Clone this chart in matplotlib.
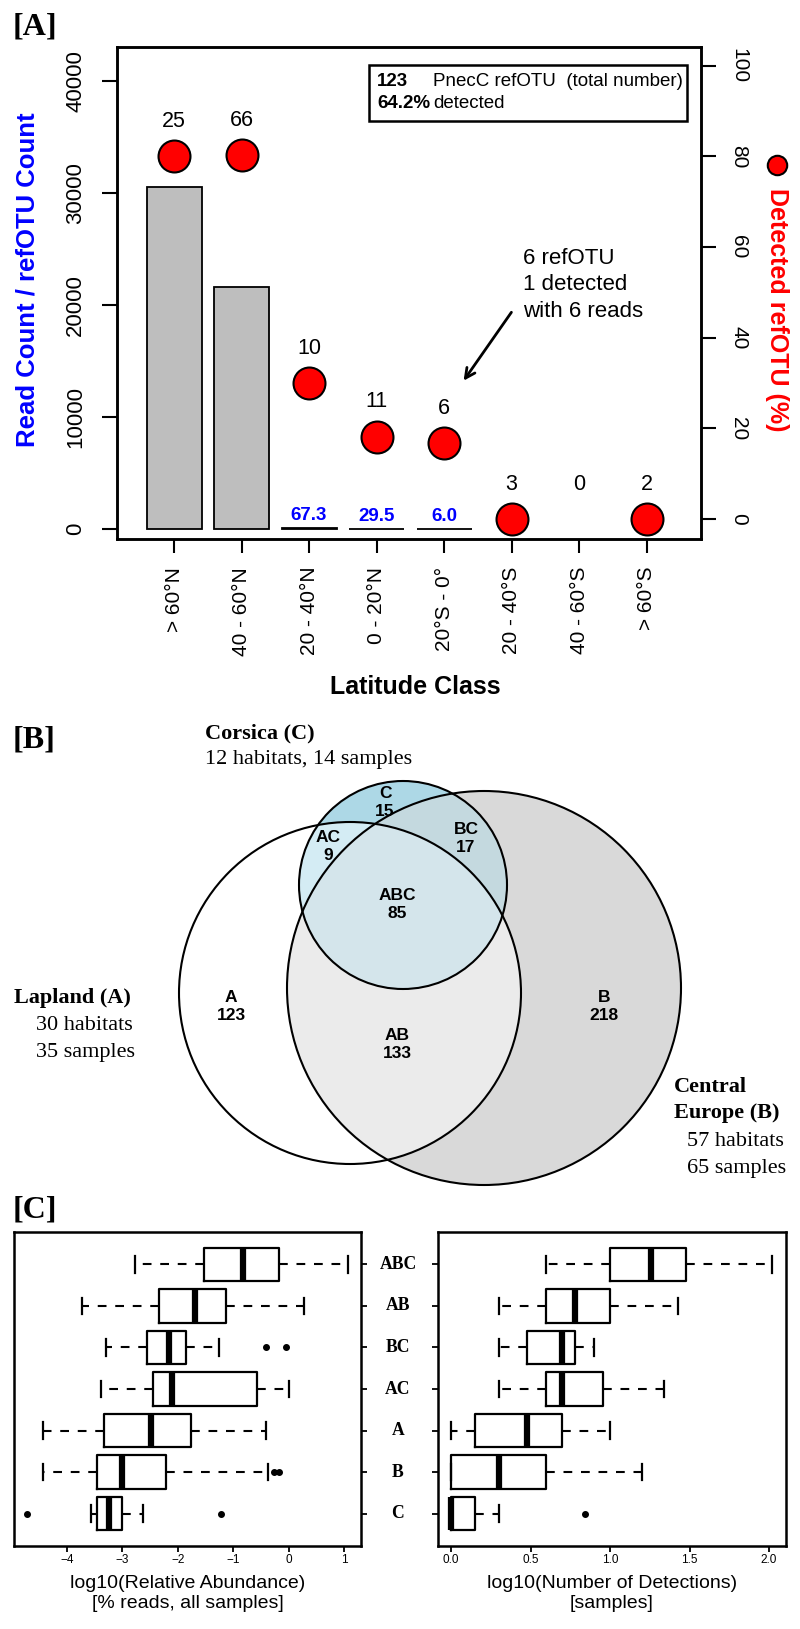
import numpy as np
import matplotlib as mpl
mpl.use('Agg')
import matplotlib.pyplot as plt
import matplotlib.transforms as transforms
from matplotlib.patches import Circle, Polygon, Rectangle
from matplotlib.lines import Line2D

W, H = 800, 1629
SANS = ['Liberation Sans', 'DejaVu Sans']
SERIF = ['Liberation Serif', 'DejaVu Serif']
plt.rcParams['font.family'] = SANS

# ---------------- data: panel A
lat_classes = ['> 60°N', '40 - 60°N', '20 - 40°N', '0 - 20°N',
               '20°S - 0°', '20 - 40°S', '40 - 60°S', '> 60°S']
reads_per_otu = [30500, 21600, 67.3, 29.5, 6.0, 0, 0, 0]
refotu_total = [25, 66, 10, 11, 6, 3, 0, 2]
refotu_detected = [20, 53, 3, 2, 1, 0, 0, 0]

# ---------------- data: panel B
venn_regions = ['A', 'B', 'C', 'AB', 'AC', 'BC', 'ABC']
venn_counts = [123, 218, 15, 133, 9, 17, 85]
venn_colors = ['#FFFFFF', '#D9D9D9', '#ADD8E6', '#EBEBEB', '#D4ECF4', '#C4D9DF', '#D4E5EB']

# ---------------- data: panel C (bottom to top)
groups = ['C', 'B', 'A', 'AC', 'BC', 'AB', 'ABC']
# whislo, q1, median, q3, whishi
abund_stats = [(-3.57, -3.45, -3.24, -3.00, -2.62),
               (-4.42, -3.46, -3.00, -2.22, -0.38),
               (-4.42, -3.33, -2.49, -1.77, -0.41),
               (-3.39, -2.45, -2.10, -0.57, 0.00),
               (-3.30, -2.55, -2.15, -1.86, -1.25),
               (-3.72, -2.33, -1.69, -1.13, 0.28),
               (-2.77, -1.53, -0.83, -0.17, 1.06)]
abund_fliers = [[-4.71, -1.23], [-0.26, -0.18], [], [], [-0.41, -0.05], [], []]
detect_stats = [(0.00, 0.00, 0.00, 0.15, 0.30),
                (0.00, 0.00, 0.30, 0.60, 1.20),
                (0.00, 0.15, 0.477, 0.70, 1.00),
                (0.30, 0.60, 0.70, 0.956, 1.34),
                (0.30, 0.48, 0.70, 0.78, 0.90),
                (0.30, 0.60, 0.78, 1.00, 1.43),
                (0.60, 1.00, 1.255, 1.48, 2.02)]
detect_fliers = [[0.845], [], [], [], [], [], []]


def axes_px(l, t, r, b):
    return fig.add_axes([l / W, 1 - b / H, (r - l) / W, (b - t) / H])


def ftext(x, y, s, **kw):
    return fig.text(x / W, 1 - y / H, s, **kw)


fig = plt.figure(figsize=(W / 100, H / 100), dpi=100)

# =============== panel A
ax = axes_px(117.4, 47, 701, 539)
x = np.arange(len(lat_classes))
reads = np.array(reads_per_otu, float)
has_reads = reads > 0
ax.bar(x[has_reads], reads[has_reads], width=0.815, color='#BEBEBE', edgecolor='black', lw=1.3)
ax.set_xlim(-0.839, 7.807)
ax.set_ylim(-890, 43030)
ax.set_yticks(range(0, 40001, 10000))
ax.set_xticks(x)
ax.set_xticklabels(lat_classes)
ax.tick_params(axis='y', length=10.5, width=1.5, pad=19.5, labelsize=16)
ax.tick_params(axis='x', length=10, width=1.5, pad=10, labelsize=15)
for t in ax.get_yticklabels():
    t.set_rotation(90)
    t.set_ha('center')
    t.set_va('center')
for t in ax.get_xticklabels():
    t.set_rotation(90)
    t.set_ha('center')
    t.set_va('top')
for s in ax.spines.values():
    s.set_linewidth(1.8)
for xi, v in zip(x, reads):
    if 0 < v < 1000:
        ax.annotate(f'{v:.1f}', (xi, v), xytext=(0, 9), textcoords='offset points',
                    ha='center', va='center', color='blue', fontweight='bold', fontsize=13.5)

ax2 = ax.twinx()
ax2.set_ylim(-4.4, 104.1)
ax2.set_yticks(range(0, 101, 20))
ax2.tick_params(axis='y', length=10.5, width=1.5, pad=16.5, labelsize=15)
for t in ax2.get_yticklabels():
    t.set_rotation(-90)
    t.set_ha('center')
    t.set_va('center')
for s in ax2.spines.values():
    s.set_linewidth(1.8)
tot = np.array(refotu_total, float)
det = np.array(refotu_detected, float)
pct = np.where(tot > 0, det / np.where(tot > 0, tot, 1) * 100, np.nan)
ax2.plot(x, pct, 'o', ms=23, mfc='red', mec='black', mew=1.5, ls='none')
for xi, p, n in zip(x, pct, refotu_total):
    ax2.annotate(str(n), (xi, 0 if np.isnan(p) else p), xytext=(0, 25),
                 textcoords='offset points', ha='center', va='center', fontsize=15.5)

ftext(13, 27, '[A]', family=SERIF, fontweight='bold', fontsize=23, va='center')
ftext(28, 280, 'Read Count / refOTU Count', rotation=90, color='blue',
      fontweight='bold', fontsize=18.5, ha='center', va='center')
ftext(777, 310, 'Detected refOTU (%)', rotation=-90, color='red',
      fontweight='bold', fontsize=18, ha='center', va='center')
fig.add_artist(Line2D([777 / W], [1 - 165 / H], marker='o', ms=14, mfc='red',
                      mec='black', mew=1.5, transform=fig.transFigure))
ftext(415, 687, 'Latitude Class', fontweight='bold', fontsize=18, ha='center', va='center')

fig.add_artist(Rectangle((369 / W, 1 - 121 / H), (687 - 369) / W, (121 - 64.5) / H,
                         transform=fig.transFigure, fc='white', ec='black', lw=1.8))
ftext(377, 82, f'{int(tot.sum())}', fontweight='bold', fontsize=13.5, va='center')
ftext(433, 82, 'PnecC refOTU  (total number)', fontsize=13.5, va='center')
ftext(377, 104, f'{det.sum() / tot.sum() * 100:.1f}%', fontweight='bold', fontsize=13.5, va='center')
ftext(433, 104, 'detected', fontsize=13.5, va='center')

ftext(523, 285, '6 refOTU\n1 detected\nwith 6 reads', fontsize=16, va='center',
      ha='left', linespacing=1.35)
ax.annotate('', xy=(462, H - 383), xycoords='figure pixels', xytext=(513, H - 310),
            textcoords='figure pixels',
            arrowprops=dict(arrowstyle='->,head_length=0.7,head_width=0.35', lw=2, color='black'))

# =============== panel B (venn, pixel coordinates)
vax = axes_px(0, 770, 800, 1200)
vax.set_xlim(0, 800)
vax.set_ylim(1200, 770)
vax.axis('off')
circles = {'A': ((350, 993), 171), 'B': ((484, 988), 197), 'C': ((403, 885), 104)}


def region_poly(members):
    pts = []
    t = np.linspace(0, 2 * np.pi, 1440, endpoint=False)
    for k in members:
        (cx, cy), r = circles[k]
        p = np.column_stack([cx + r * np.cos(t), cy + r * np.sin(t)])
        inside = np.ones(len(p), bool)
        for j in members:
            if j != k:
                (jx, jy), rj = circles[j]
                inside &= (p[:, 0] - jx) ** 2 + (p[:, 1] - jy) ** 2 <= rj ** 2
        pts.append(p[inside])
    pts = np.vstack(pts)
    c = pts.mean(axis=0)
    return pts[np.argsort(np.arctan2(pts[:, 1] - c[1], pts[:, 0] - c[0]))]


fill = dict(zip(venn_regions, venn_colors))
for k in ['B', 'A', 'C']:
    (cx, cy), r = circles[k]
    vax.add_patch(Circle((cx, cy), r, fc=fill[k], ec='none'))
for reg in ['AB', 'AC', 'BC', 'ABC']:
    vax.add_patch(Polygon(region_poly(list(reg)), closed=True, fc=fill[reg], ec='none'))
for k in ['A', 'B', 'C']:
    (cx, cy), r = circles[k]
    vax.add_patch(Circle((cx, cy), r, fc='none', ec='black', lw=1.5))

label_pos = {'A': (231, 1007), 'B': (604, 1007), 'C': (385, 803), 'AB': (397, 1045),
             'AC': (328, 847), 'BC': (466, 838), 'ABC': (397, 905)}
for reg, n in zip(venn_regions, venn_counts):
    vx, vy = label_pos[reg]
    vax.text(vx, vy, f'{reg}\n{n}', ha='center', va='center', fontsize=12.5,
             fontweight='bold', linespacing=1.25)

ftext(13, 740, '[B]', family=SERIF, fontweight='bold', fontsize=23, va='center')
ftext(205, 733, 'Corsica (C)', family=SERIF, fontweight='bold', fontsize=16, va='center')
ftext(205, 760, '12 habitats, 14 samples', family=SERIF, fontsize=16, va='center')
ftext(14, 998, 'Lapland (A)', family=SERIF, fontweight='bold', fontsize=16, va='center')
ftext(36, 1025, '30 habitats', family=SERIF, fontsize=16, va='center')
ftext(36, 1052, '35 samples', family=SERIF, fontsize=16, va='center')
ftext(674, 1087, 'Central', family=SERIF, fontweight='bold', fontsize=16, va='center')
ftext(674, 1113, 'Europe (B)', family=SERIF, fontweight='bold', fontsize=16, va='center')
ftext(687, 1142, '57 habitats', family=SERIF, fontsize=16, va='center')
ftext(687, 1169, '65 samples', family=SERIF, fontsize=16, va='center')

# =============== panel C
def make_stats(stats, fliers):
    out = []
    for (wl, q1, med, q3, wh), fl in zip(stats, fliers):
        out.append(dict(whislo=wl, q1=q1, med=med, q3=q3, whishi=wh, fliers=fl))
    return out


box_kw = dict(positions=range(1, 8), widths=0.8, orientation='horizontal',
              boxprops=dict(lw=1.6, color='black'),
              whiskerprops=dict(lw=1.5, ls=(0, (4.2, 4.2)), color='black'),
              capprops=dict(lw=1.6, color='black'),
              medianprops=dict(lw=4.5, color='black', solid_capstyle='butt'),
              flierprops=dict(marker='o', mfc='black', mec='black', ms=4, ls='none'))

axc1 = axes_px(14, 1232, 361, 1546)
axc1.bxp(make_stats(abund_stats, abund_fliers), **box_kw)
axc1.set_xlim(-4.95, 1.30)
axc1.set_xticks(range(-4, 2))
axc1.yaxis.tick_right()

axc2 = axes_px(437.7, 1232, 785.7, 1546)
axc2.bxp(make_stats(detect_stats, detect_fliers), **box_kw)
axc2.set_xlim(-0.084, 2.105)
axc2.set_xticks(np.arange(0, 2.01, 0.5))
axc2.set_xticklabels([f'{v:.1f}' for v in np.arange(0, 2.01, 0.5)])

for a in (axc1, axc2):
    a.set_ylim(0.22, 7.78)
    a.set_yticks(range(1, 8))
    a.set_yticklabels([])
    a.tick_params(length=4, width=1.3, labelsize=8.5, pad=2)
    for s in a.spines.values():
        s.set_linewidth(1.8)

row_tr = transforms.blended_transform_factory(fig.transFigure, axc1.transData)
for i, g in enumerate(groups):
    fig.text(398 / W, i + 1, g, transform=row_tr, family=SERIF, fontweight='bold',
             fontsize=12.7, ha='center', va='center')

ftext(13, 1210, '[C]', family=SERIF, fontweight='bold', fontsize=23, va='center')
ftext(187.5, 1583, 'log10(Relative Abundance)', fontsize=14, ha='center', va='center')
ftext(187.5, 1604, '[% reads, all samples]', fontsize=14, ha='center', va='center')
ftext(611.7, 1583, 'log10(Number of Detections)', fontsize=14, ha='center', va='center')
ftext(611.7, 1604, '[samples]', fontsize=14, ha='center', va='center')

fig.savefig('out.png', dpi=100)
